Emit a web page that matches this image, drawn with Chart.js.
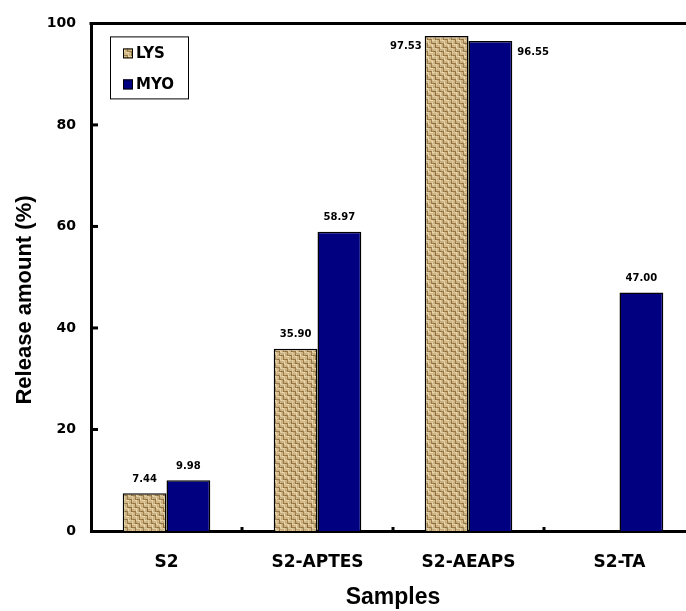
<!DOCTYPE html>
<html>
<head>
<meta charset="utf-8">
<script src="https://cdn.jsdelivr.net/npm/chart.js@4.4.0/dist/chart.umd.min.js"></script>
<style>
  html, body { margin: 0; padding: 0; background: #fff; overflow: hidden; }
  #wrap { width: 695px; height: 611px; }
</style>
</head>
<body>
<div id="wrap"><canvas id="grafico" width="695" height="611"></canvas></div>
<script>
const amostras = ["S2", "S2-APTES", "S2-AEAPS", "S2-TA"];
const valoresLYS = [7.44, 35.90, 97.53, null];
const valoresMYO = [9.98, 58.97, 96.55, 47.00];
const ticksY = [0, 20, 40, 60, 80, 100];
// where each value label sits: above the bar or beside it
const posicaoRotulo = ["top", "top", "side", "top"];

function criarPadraoJuta(ctx) {
  const tam = 16;
  const c = document.createElement("canvas");
  c.width = tam;
  c.height = tam;
  const p = c.getContext("2d");
  const img = p.createImageData(tam, tam);
  for (let y = 0; y < tam; y++) {
    for (let x = 0; x < tam; x++) {
      const bx = Math.floor(x / 4);
      const by = Math.floor(y / 4);
      const horizontal = (bx + by) % 2 === 0;
      const fio = horizontal ? y % 4 : x % 4;
      const ruido = ((x * 73 + y * 151 + x * y * 17) % 29) / 29;
      let r = 206, g = 180, b = 130;
      if (fio === 3) { r = 150; g = 120; b = 72; }
      else if (fio === 0) { r = 228; g = 208; b = 165; }
      r += (ruido - 0.5) * 30;
      g += (ruido - 0.5) * 28;
      b += (ruido - 0.5) * 24;
      const k = (y * tam + x) * 4;
      img.data[k] = r;
      img.data[k + 1] = g;
      img.data[k + 2] = b;
      img.data[k + 3] = 255;
    }
  }
  p.putImageData(img, 0, 0);
  return ctx.createPattern(c, "repeat");
}

const molduraPlugin = {
  id: "moldura",
  afterDraw(chart) {
    const { ctx, chartArea } = chart;
    const sy = chart.scales.y;
    const sx = chart.scales.x;
    ctx.save();
    ctx.strokeStyle = "#000";
    ctx.lineWidth = 3;
    // top border
    ctx.beginPath();
    ctx.moveTo(chartArea.left - 1.5, chartArea.top);
    ctx.lineTo(chartArea.right, chartArea.top);
    ctx.stroke();
    // inward y ticks
    ticksY.slice(1, -1).forEach((v) => {
      const y = sy.getPixelForValue(v);
      ctx.beginPath();
      ctx.moveTo(chartArea.left, y);
      ctx.lineTo(chartArea.left + 7, y);
      ctx.stroke();
    });
    // small x ticks between categories
    for (let i = 0; i < amostras.length - 1; i++) {
      const x = (sx.getPixelForTick(i) + sx.getPixelForTick(i + 1)) / 2;
      ctx.beginPath();
      ctx.moveTo(x, chartArea.bottom);
      ctx.lineTo(x, chartArea.bottom - 4);
      ctx.stroke();
    }
    // y axis title
    ctx.translate(25, 300);
    ctx.rotate(-Math.PI / 2);
    ctx.font = "bold 22px 'Liberation Sans'";
    ctx.fillStyle = "#000";
    ctx.textAlign = "center";
    ctx.textBaseline = "middle";
    ctx.fillText("Release amount (%)", 0, 0);
    ctx.restore();
  },
};

const rotulosPlugin = {
  id: "rotulos",
  afterDatasetsDraw(chart) {
    const { ctx } = chart;
    ctx.save();
    ctx.font = "bold 10px 'DejaVu Sans'";
    ctx.fillStyle = "#000";
    ctx.textBaseline = "middle";
    chart.data.datasets.forEach((ds, di) => {
      const meta = chart.getDatasetMeta(di);
      meta.data.forEach((bar, i) => {
        const v = ds.data[i];
        if (v === null || v === undefined) return;
        const texto = v.toFixed(2);
        if (posicaoRotulo[i] === "side") {
          if (di === 0) {
            ctx.textAlign = "right";
            ctx.fillText(texto, bar.x - bar.width / 2 - 3, bar.y + 10);
          } else {
            ctx.textAlign = "left";
            ctx.fillText(texto, bar.x + bar.width / 2 + 5, bar.y + 11);
          }
        } else {
          ctx.textAlign = "center";
          ctx.fillText(texto, bar.x, bar.y - 14);
        }
      });
    });
    ctx.restore();
  },
};

const legendaPlugin = {
  id: "legenda",
  afterDraw(chart) {
    const { ctx, chartArea } = chart;
    const x0 = chartArea.left + 19;
    const y0 = chartArea.top + 13;
    ctx.save();
    ctx.fillStyle = "#fff";
    ctx.fillRect(x0, y0, 78, 62);
    ctx.strokeStyle = "#000";
    ctx.lineWidth = 1;
    ctx.strokeRect(x0 + 0.5, y0 + 0.5, 78, 62);
    ctx.font = "bold 15px 'DejaVu Sans'";
    ctx.textBaseline = "middle";
    ctx.textAlign = "left";
    chart.data.datasets.forEach((ds, di) => {
      const yc = y0 + 17 + di * 31;
      ctx.fillStyle = ds.backgroundColor;
      ctx.fillRect(x0 + 13, yc - 5, 10, 10);
      ctx.strokeStyle = "#000";
      ctx.strokeRect(x0 + 13.5, yc - 4.5, 9, 9);
      ctx.fillStyle = "#000";
      ctx.fillText(ds.label, x0 + 26, yc + 1);
    });
    ctx.restore();
  },
};

const ctx = document.getElementById("grafico").getContext("2d");
const grafico = new Chart(ctx, {
  type: "bar",
  data: {
    labels: amostras,
    datasets: [
      {
        label: "LYS",
        data: valoresLYS,
        backgroundColor: criarPadraoJuta(ctx),
        borderColor: "#000",
        borderWidth: 1.5,
        categoryPercentage: 0.58,
        barPercentage: 1,
      },
      {
        label: "MYO",
        data: valoresMYO,
        backgroundColor: "#000080",
        borderColor: "#000",
        borderWidth: 1.5,
        categoryPercentage: 0.58,
        barPercentage: 1,
      },
    ],
  },
  options: {
    responsive: false,
    animation: false,
    layout: { padding: { top: 22, right: 0, left: 0, bottom: 0 } },
    plugins: {
      legend: { display: false },
      tooltip: { enabled: false },
    },
    scales: {
      x: {
        grid: { display: false, drawTicks: false },
        border: { display: true, color: "#000", width: 3 },
        ticks: {
          color: "#000",
          font: { family: "DejaVu Sans", weight: "bold", size: 17 },
          padding: 21,
        },
        title: {
          display: true,
          text: "Samples",
          color: "#000",
          font: { family: "Liberation Sans", weight: "bold", size: 23 },
          padding: { top: 0, bottom: 0 },
        },
        afterFit(scale) {
          scale.height = 80;
        },
      },
      y: {
        min: 0,
        max: 100,
        grid: { display: false, drawTicks: false },
        border: { display: true, color: "#000", width: 3 },
        ticks: {
          stepSize: 20,
          color: "#000",
          font: { family: "DejaVu Sans", weight: "bold", size: 14 },
          padding: 15,
        },
        afterFit(scale) {
          scale.width = 91;
        },
      },
    },
  },
  plugins: [molduraPlugin, rotulosPlugin, legendaPlugin],
});
</script>
</body>
</html>
